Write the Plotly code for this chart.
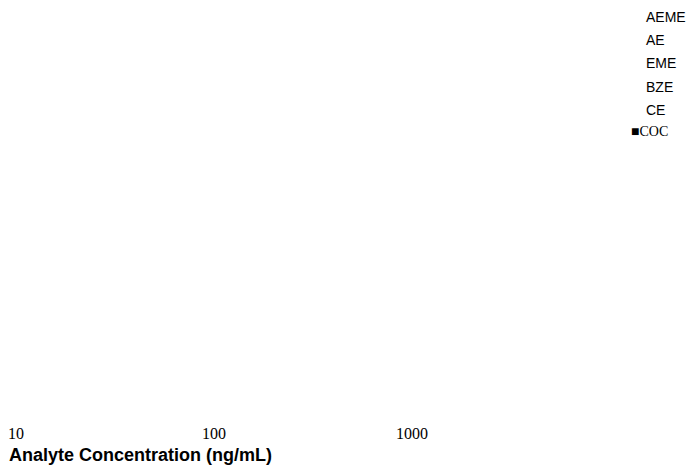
import plotly.graph_objects as go

# Series (no data points are visible in the reference)
series_names = ["AEME", "AE", "EME", "BZE", "CE", "COC"]
series_x = {name: [None] for name in series_names}
series_y = {name: [None] for name in series_names}

tick_values = [10, 100, 1000]
tick_labels = ["10", "100", "1000"]
x_title = "Analyte Concentration (ng/mL)"

# page has an 8px body margin, so the figure is slightly smaller than the window
W, H = 686, 460
ML, MR, MT, MB = 8, 185, 10, 46
PW = W - ML - MR
PH = H - MT - MB

SANS = "Liberation Sans, Arial, sans-serif"
SERIF = "Liberation Serif, Times New Roman, serif"

fig = go.Figure()
for name in series_names:
    is_coc = name == "COC"
    label = '<span style="font-family:Liberation Serif, Times New Roman, serif">\u25a0COC</span>' if is_coc else name
    fig.add_trace(go.Scatter(
        x=series_x[name], y=series_y[name], name=label, mode="markers",
        marker=dict(color="rgba(0,0,0,0)", size=1),
        legendgroup=name, showlegend=True,
        legend="legend2" if is_coc else "legend",
    ))

fig.update_layout(
    template="none",
    width=W, height=H,
    paper_bgcolor="white", plot_bgcolor="white",
    margin=dict(l=ML, r=MR, t=MT, b=MB, autoexpand=False),
    font=dict(family=SANS, color="black"),
    showlegend=True,
    legend=dict(
        xref="container", yref="paper",
        x=598 / W, y=1 + (MT + 7) / PH, xanchor="left", yanchor="top",
        font=dict(size=14, family=SANS, color="black"),
        bgcolor="rgba(0,0,0,0)", borderwidth=0, tracegroupgap=2,
    ),
    legend2=dict(
        xref="container", yref="container",
        x=583 / W, y=1 - 107 / H, xanchor="left", yanchor="top",
        font=dict(size=14, family=SERIF, color="black"),
        bgcolor="rgba(0,0,0,0)", borderwidth=0,
    ),
    xaxis=dict(
        type="log", range=[1, 1 + PW / 198], automargin=False,
        tickvals=tick_values, ticktext=tick_labels,
        showgrid=False, zeroline=False, showline=False, ticks="",
        ticklabeloverflow="allow",
        tickfont=dict(family=SERIF, size=16, color="black"),
    ),
    yaxis=dict(visible=False, range=[0, 1], automargin=False),
    annotations=[dict(
        text="<b>" + x_title + "</b>", xref="paper", yref="paper",
        x=-9 / PW, y=((H - MB) - 447) / PH, xanchor="left", yanchor="middle",
        showarrow=False, font=dict(size=18, family=SANS, color="black"),
    )],
)

fig.write_html("out.html")
